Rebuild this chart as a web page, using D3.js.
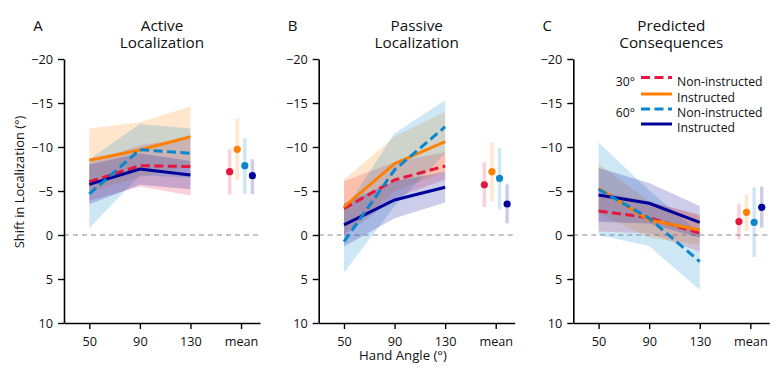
<!DOCTYPE html>
<html><head><meta charset="utf-8">
<script src="https://cdn.jsdelivr.net/npm/d3@7"></script>
<style>
body{margin:0;background:#fff;}
svg text{font-family:"Open Sans",sans-serif;fill:#111;}
</style></head>
<body><svg id="c" width="784" height="369"></svg>
<script>
// ---- data ----
const panelLetters = ["A","B","C"];
const panelTitles = [["Active","Localization"],["Passive","Localization"],["Predicted","Consequences"]];
const handAngles = [50, 90, 130];
const xTickLabels = ["50","90","130","mean"];
const yTicks = [-20,-15,-10,-5,0,5,10];
const seriesNames = ["Non-instructed","Instructed","Non-instructed","Instructed"];
const rotationLabels = ["30°","","60°",""];
const seriesColors = ["#e6163f","#ff8000","#0a86cc","#00009a"];
const seriesDashed = [true,false,true,false];

// order: 30° non-instr (red), 30° instr (orange), 60° non-instr (cyan), 60° instr (navy)
const activeMean = [[-6.06,-7.88,-7.77],[-8.49,-9.66,-11.17],[-4.66,-9.7,-9.28],[-5.76,-7.5,-6.82]];
const activeLo   = [[-3.9,-5.5,-4.5],[-4.9,-6.6,-7.8],[-0.76,-6.8,-6.5],[-3.5,-5.7,-5.2]];
const activeHi   = [[-8.2,-10.2,-11.0],[-12.1,-12.8,-14.6],[-8.6,-12.6,-12.1],[-8.0,-9.3,-8.4]];
const activeAvg   = [-7.2,-9.74,-7.88,-6.74];
const activeAvgLo = [-4.6,-6.25,-4.66,-4.66];
const activeAvgHi = [-9.74,-13.2,-11.0,-8.6];

const passiveMean = [[-3.0,-6.25,-7.84],[-3.2,-8.1,-10.6],[0.76,-7.4,-12.3],[-1.14,-3.98,-5.42]];
const passiveLo   = [[0.1,-4.2,-6.3],[-0.1,-5.0,-7.2],[4.28,-3.3,-9.3],[1.3,-1.9,-3.7]];
const passiveHi   = [[-6.1,-8.3,-9.4],[-6.3,-11.2,-14.0],[-2.74,-11.55,-15.3],[-3.6,-6.1,-7.2]];
const passiveAvg   = [-5.7,-7.2,-6.44,-3.52];
const passiveAvgLo = [-3.2,-3.86,-2.9,-1.33];
const passiveAvgHi = [-8.26,-10.5,-9.9,-5.76];

const predictedMean = [[-2.73,-1.97,-0.19],[-5.3,-1.7,-0.57],[-5.2,-1.9,3.03],[-4.55,-3.6,-1.44]];
const predictedLo   = [[-0.4,-0.2,1.9],[-2.5,0.3,1.1],[0.0,1.25,6.25],[-1.5,-1.3,0.3]];
const predictedHi   = [[-5.0,-3.8,-2.3],[-8.1,-3.8,-2.2],[-10.5,-5.05,-0.2],[-7.6,-5.9,-3.3]];
const predictedAvg   = [-1.52,-2.58,-1.44,-3.15];
const predictedAvgLo = [0.5,-0.5,2.5,-0.83];
const predictedAvgHi = [-3.5,-4.6,-5.4,-5.5];

const panelData = [
  {mean:activeMean, lo:activeLo, hi:activeHi, avg:activeAvg, avgLo:activeAvgLo, avgHi:activeAvgHi},
  {mean:passiveMean, lo:passiveLo, hi:passiveHi, avg:passiveAvg, avgLo:passiveAvgLo, avgHi:passiveAvgHi},
  {mean:predictedMean, lo:predictedLo, hi:predictedHi, avg:predictedAvg, avgLo:predictedAvgLo, avgHi:predictedAvgHi}
];

// ---- layout ----
const svg = d3.select("#c");
const panelX0 = [64, 318.7, 573.3];
const axisW = 196;
const yTop = 59, yBot = 323;
const meanPos = 170;
const meanOffsets = [-9,-3,3,9];

const y = d3.scaleLinear().domain([-20,10]).range([yTop,yBot]);

panelData.forEach((pd, p) => {
  const g = svg.append("g").attr("transform", `translate(${panelX0[p]},0)`);
  const x = d3.scaleLinear().domain([30,185]).range([0,axisW]);

  g.append("line").attr("x1",0).attr("x2",axisW).attr("y1",y(0)).attr("y2",y(0))
    .attr("stroke","#b3b3b3").attr("stroke-width",1.3).attr("stroke-dasharray","5,4");

  const area = d3.area().x((d,i)=>x(handAngles[i])).y0(d=>y(d[0])).y1(d=>y(d[1]));
  [0,1,2,3].forEach(s => {
    const pts = handAngles.map((a,i)=>[pd.lo[s][i], pd.hi[s][i]]);
    g.append("path").attr("d", area(pts)).attr("fill", seriesColors[s]).attr("fill-opacity",0.2).attr("stroke","none");
  });
  const line = d3.line().x((d,i)=>x(handAngles[i])).y(d=>y(d));
  [0,1,3,2].forEach(s => {
    g.append("path").attr("d", line(pd.mean[s])).attr("fill","none")
      .attr("stroke", seriesColors[s]).attr("stroke-width",3)
      .attr("stroke-dasharray", seriesDashed[s] ? "9,4.5" : null);
  });
  [0,1,2,3].forEach(s => {
    const cx = x(meanPos + meanOffsets[s]);
    g.append("line").attr("x1",cx).attr("x2",cx).attr("y1",y(pd.avgLo[s])).attr("y2",y(pd.avgHi[s]))
      .attr("stroke",seriesColors[s]).attr("stroke-opacity",0.2).attr("stroke-width",3.5);
    g.append("circle").attr("cx",cx).attr("cy",y(pd.avg[s])).attr("r",3.6).attr("fill",seriesColors[s]);
  });

  const yAxis = d3.axisLeft(y).tickValues(yTicks).tickSize(6).tickSizeOuter(0).tickPadding(5);
  const ga = g.append("g").call(yAxis);
  const xAxis = d3.axisBottom(x).tickValues([50,90,130,meanPos]).tickFormat((d,i)=>xTickLabels[i])
    .tickSize(6).tickSizeOuter(0).tickPadding(8);
  const gx = g.append("g").attr("transform",`translate(0,${yBot})`).call(xAxis);
  [ga,gx].forEach(a => {
    a.select(".domain").attr("stroke","#000").attr("stroke-width",1.6);
    a.selectAll(".tick line").attr("stroke","#000").attr("stroke-width",1.4);
    a.selectAll("text").attr("font-size",12.7).attr("fill","#111")
      .style("font-family","'Open Sans',sans-serif");
  });

  g.append("text").attr("x",axisW/2).attr("y",30.7).attr("text-anchor","middle").attr("font-size",15.3).text(panelTitles[p][0]);
  g.append("text").attr("x",axisW/2).attr("y",48.3).attr("text-anchor","middle").attr("font-size",15.3).text(panelTitles[p][1]);
  g.append("text").attr("x",-26).attr("y",30.7).attr("text-anchor","middle").attr("font-size",15).text(panelLetters[p]);
});

svg.append("text").attr("transform",`translate(23.5,182) rotate(-90)`)
  .attr("text-anchor","middle").attr("font-size",12.9).text("Shift in Localization (°)");
svg.append("text").attr("x",403).attr("y",359.5).attr("text-anchor","middle").attr("font-size",13.2).text("Hand Angle (°)");

const lg = svg.append("g");
const legY = [77.5, 94, 109, 124];
seriesNames.forEach((n,i) => {
  lg.append("line").attr("x1",641).attr("x2",672).attr("y1",legY[i]).attr("y2",legY[i])
    .attr("stroke",seriesColors[i]).attr("stroke-width",3)
    .attr("stroke-dasharray", seriesDashed[i] ? "9,4.5" : null);
  lg.append("text").attr("x",677).attr("y",legY[i]+8).attr("font-size",12.2).text(n);
  if (rotationLabels[i]) lg.append("text").attr("x",635).attr("y",legY[i]+8).attr("text-anchor","end").attr("font-size",12.2).text(rotationLabels[i]);
});
</script></body></html>
